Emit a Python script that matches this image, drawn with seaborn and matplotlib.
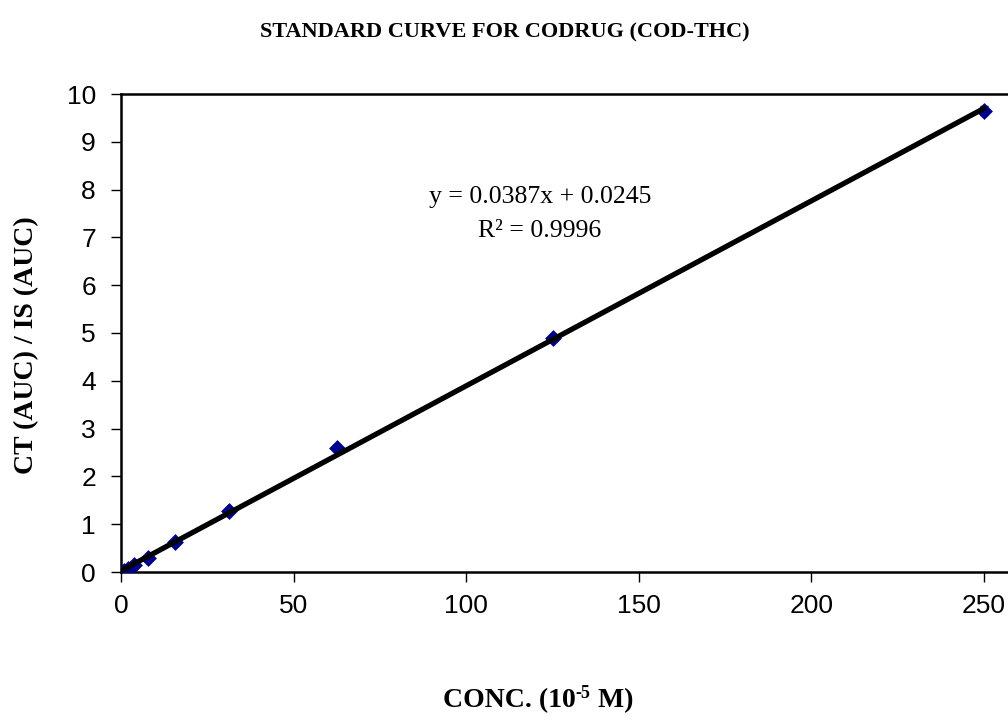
import numpy as np
import pandas as pd
import matplotlib
matplotlib.use("Agg")
import matplotlib.pyplot as plt
import seaborn as sns

# Calibration standards: concentration (10^-5 M) vs. peak area ratio
conc = [0, 0.977, 1.953, 3.906, 7.8125, 15.625, 31.25, 62.5, 125, 250]
ratio = [0.0, 0.03, 0.07, 0.14, 0.30, 0.62, 1.27, 2.60, 4.90, 9.65]
ratio_err = [0.01, 0.01, 0.01, 0.02, 0.03, 0.03, 0.04, 0.05, 0.05, 0.09]

# Linear regression reported on the chart
slope = 0.0387
intercept = 0.0245
r_squared = 0.9996

x_ticks = [0, 50, 100, 150, 200, 250]
y_ticks = list(range(0, 11))

sns.set_theme(style="white")
plt.rcParams["font.family"] = ["Liberation Sans", "DejaVu Sans"]
plt.rcParams["text.color"] = "black"
plt.rcParams["xtick.color"] = "black"
plt.rcParams["ytick.color"] = "black"

df = pd.DataFrame({"conc": conc, "ratio": ratio})

fig = plt.figure(figsize=(10.08, 7.21), dpi=100)
W, H = 1008, 721
left_px, right_px, top_px, bottom_px = 121, 1018, 94, 572
ax = fig.add_axes([left_px / W, 1 - bottom_px / H,
                   (right_px - left_px) / W, (bottom_px - top_px) / H])

px_per_unit = (984 - 121) / 250
ax.set_xlim(0, (right_px - left_px) / px_per_unit)
ax.set_ylim(0, 10)

navy = "#00008B"
ax.errorbar(conc, ratio, yerr=ratio_err, fmt="none", ecolor="black",
            elinewidth=1, capsize=3, zorder=2)
sns.scatterplot(data=df, x="conc", y="ratio", marker="D", s=65,
                color=navy, edgecolor=navy, linewidth=0.5, ax=ax, zorder=3)

fit_x = np.array([0, 250])
fit_df = pd.DataFrame({"conc": fit_x, "fit": slope * fit_x + intercept})
sns.lineplot(data=fit_df, x="conc", y="fit", color="black", linewidth=3.8,
             ax=ax, zorder=4)

ax.set_xticks(x_ticks)
ax.set_yticks(y_ticks)
ax.tick_params(axis="both", which="major", direction="out", length=7,
               width=1, color="black", labelsize=19, labelcolor="black",
               left=True, bottom=True)
ax.tick_params(axis="y", pad=11)
ax.tick_params(axis="x", pad=9)
for side in ["left", "bottom", "top"]:
    ax.spines[side].set_color("black")
    ax.spines[side].set_linewidth(1.8)
ax.spines["right"].set_visible(False)

ax.set_xlabel("")
ax.set_ylabel("")

serif = ["Liberation Serif", "DejaVu Serif"]


def fig_xy(px, py):
    return px / W, 1 - py / H


fig.text(*fig_xy(505, 32), "STANDARD CURVE FOR CODRUG (COD-THC)",
         ha="center", va="center", fontsize=16, fontweight="bold",
         family=serif)

# x-axis title: base text plus a small raised "-5" exponent
xlab_y = 700
left_part = fig.text(0, 0, "CONC. (10", fontsize=20, fontweight="bold",
                     family=serif)
sup_part = fig.text(0, 0, "-5", fontsize=13, fontweight="bold", family=serif)
right_part = fig.text(0, 0, " M)", fontsize=20, fontweight="bold",
                      family=serif)
renderer = fig.canvas.get_renderer()
widths = [t.get_window_extent(renderer).width
          for t in (left_part, sup_part, right_part)]
x0 = 538 - sum(widths) / 2
base_y = H - xlab_y - 7
left_part.set_position(fig_xy(x0, xlab_y + 7))
sup_part.set_position(fig_xy(x0 + widths[0], xlab_y - 2))
right_part.set_position(fig_xy(x0 + widths[0] + widths[1], xlab_y + 7))

fig.text(*fig_xy(27, 345), "CT (AUC) / IS (AUC)", rotation=90,
         ha="center", va="center", fontsize=20, fontweight="bold",
         family=serif)

fig.text(*fig_xy(540, 197), f"y = {slope}x + {intercept}",
         ha="center", va="center", fontsize=18.5, family=serif)
fig.text(*fig_xy(540, 231), f"R² = {r_squared}",
         ha="center", va="center", fontsize=18.5, family=serif)

fig.savefig("out.png", dpi=100)
